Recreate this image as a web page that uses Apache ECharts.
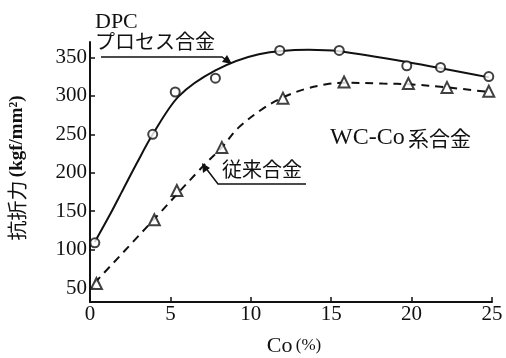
<!DOCTYPE html>
<html>
<head>
<meta charset="utf-8">
<script src="https://cdn.jsdelivr.net/npm/echarts@6/dist/echarts.min.js"></script>
<style>
html,body{margin:0;padding:0;background:#fff;}
#chart{width:506px;height:358px;}
</style>
</head>
<body>
<div id="chart"></div>
<script>
// Measured points (Co %, transverse rupture strength kgf/mm2)
var dpcCo = [0.3, 3.9, 5.3, 7.8, 11.8, 15.5, 19.7, 21.8, 24.8];
var dpcStrength = [109, 250, 305, 323, 359, 359, 339, 337, 325];
var convCo = [0.4, 4.0, 5.4, 8.2, 12.0, 15.8, 19.8, 22.2, 24.8];
var convStrength = [56, 139, 177, 233, 297, 318, 316, 311, 306];

// Fitted curves
var dpcCurveCo = [0.3, 1.2, 2.0, 2.9, 3.9, 5.5, 7.8, 10.5, 13.6, 15.5, 19.7, 24.8];
var dpcCurveStrength = [110, 144, 176, 212, 250, 299, 333, 354, 360, 358, 344, 324];
var convCurveCo = [0.3, 4.0, 7.0, 8.2, 9.25, 10.8, 12.0, 13.4, 14.7, 15.7, 18.2, 19.9, 22.2, 24.8];
var convCurveStrength = [57, 140, 208, 233, 259, 284, 298, 309, 315, 317, 316, 315, 311, 305];

// Tick labels
var yTicks = [50, 100, 150, 200, 250, 300, 350];
var xTicks = [0, 5, 10, 15, 20, 25];

function zip(a, b) { return a.map(function (v, i) { return [v, b[i]]; }); }

var ink = '#111';
var serif = '"Liberation Serif", "DejaVu Serif", serif';
var cjk = '"Noto Sans CJK JP", sans-serif';

var chart = echarts.init(document.getElementById('chart'));
chart.setOption({
  backgroundColor: '#fff',
  animation: false,
  grid: { left: 90, right: 14, top: 42, bottom: 56, containLabel: false, outerBoundsMode: 'none' },
  xAxis: {
    type: 'value', min: 0, max: 25, interval: 5,
    axisLine: { lineStyle: { color: ink, width: 2 } },
    axisTick: { inside: true, length: 5, lineStyle: { color: ink, width: 1.5 } },
    axisLabel: { color: ink, fontFamily: serif, fontSize: 21, margin: 2,
      formatter: function (v) { return xTicks.indexOf(v) >= 0 ? String(v) : ''; } },
    splitLine: { show: false }
  },
  yAxis: {
    type: 'value', min: 32, max: 370,
    axisLine: { show: true, lineStyle: { color: ink, width: 2 } },
    axisTick: { show: true, inside: true, length: 5, customValues: yTicks, lineStyle: { color: ink, width: 1.5 } },
    axisLabel: { color: ink, fontFamily: serif, fontSize: 21, margin: 3, customValues: yTicks },
    splitLine: { show: false }
  },
  series: [
    { type: 'line', data: zip(dpcCurveCo, dpcCurveStrength), smooth: 0.3, showSymbol: false,
      lineStyle: { color: ink, width: 2 }, z: 2 },
    { type: 'line', data: zip(convCurveCo, convCurveStrength), smooth: 0.35, showSymbol: false,
      lineStyle: { color: ink, width: 2, type: [8, 6] }, z: 2 },
    { type: 'scatter', data: zip(dpcCo, dpcStrength), symbol: 'circle', symbolSize: 9,
      itemStyle: { color: '#fff', borderColor: ink, borderWidth: 2 }, z: 3 },
    { type: 'scatter', data: zip(convCo, convStrength), symbol: 'triangle', symbolSize: 11,
      itemStyle: { color: '#fff', borderColor: ink, borderWidth: 2 }, z: 3 }
  ],
  graphic: [
    { type: 'text', left: 95, top: 11, style: { text: 'DPC', font: '22px ' + serif, fill: ink } },
    { type: 'text', left: 95, top: 31, style: { text: 'プロセス合金', font: '20px ' + cjk, fill: ink } },
    { type: 'polyline', shape: { points: [[101, 57], [222, 57], [229, 62]] }, style: { stroke: ink, lineWidth: 1.5, fill: null } },
    { type: 'polygon', shape: { points: [[232, 64], [222, 62], [227, 55]] }, style: { fill: ink } },
    { type: 'text', left: 222, top: 159, style: { text: '従来合金', font: '20px ' + cjk, fill: ink } },
    { type: 'polyline', shape: { points: [[306, 184], [218, 184], [205, 167]] }, style: { stroke: ink, lineWidth: 1.5, fill: null } },
    { type: 'polygon', shape: { points: [[202, 163], [210, 168], [203, 173]] }, style: { fill: ink } },
    { type: 'text', left: 330, top: 126, style: {
      text: '{a|WC-Co} {b|系合金}',
      rich: { a: { fontFamily: serif, fontSize: 24, fill: ink, color: ink }, b: { fontFamily: cjk, fontSize: 21, fill: ink, color: ink } } } },
    { type: 'text', x: 294, y: 346, style: {
      text: '{a|Co} {b|(%)}', align: 'center', verticalAlign: 'middle',
      rich: { a: { fontFamily: serif, fontSize: 22, fill: ink, color: ink }, b: { fontFamily: serif, fontSize: 17, fill: ink, color: ink } } } },
    { type: 'text', x: 17, y: 168, rotation: Math.PI / 2, style: {
      text: '{b|抗折力} {a|(kgf/mm²)}', align: 'center', verticalAlign: 'middle',
      rich: { a: { fontFamily: serif, fontSize: 19, fontWeight: 'bold', fill: ink, color: ink }, b: { fontFamily: cjk, fontSize: 20, fill: ink, color: ink } } } }
  ]
});
</script>
</body>
</html>
